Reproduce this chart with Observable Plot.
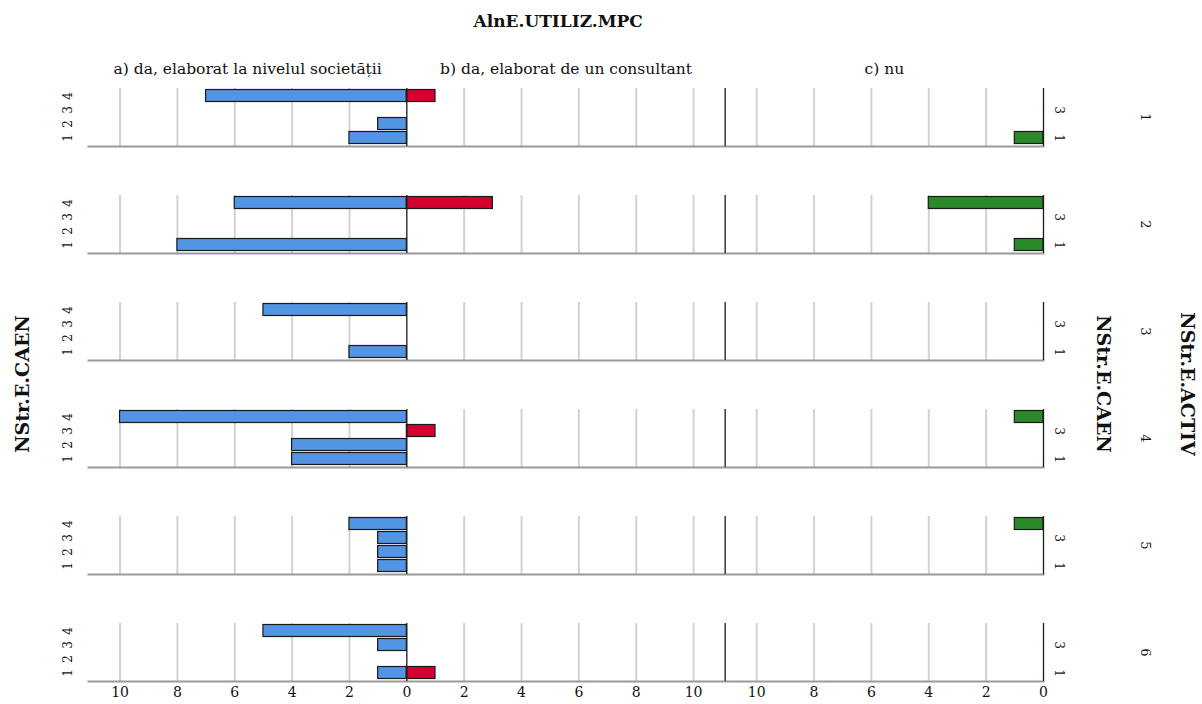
<!DOCTYPE html>
<html><head><meta charset="utf-8">
<script src="https://cdn.jsdelivr.net/npm/d3@7"></script>
<script src="https://cdn.jsdelivr.net/npm/@observablehq/plot@0.6"></script>
<style>
body{margin:0;background:#fff;}
#wrap{position:relative;width:1202px;height:704px;font-family:"DejaVu Serif",serif;color:#111;}
#wrap svg{position:absolute;left:0;top:0;}
.lbl{position:absolute;white-space:nowrap;transform-origin:center center;}
</style></head><body><div id="wrap"></div>
<script>
// Data
const activ = [1, 2, 3, 4, 5, 6];          // NStr.E.ACTIV (rows)
const caen = [1, 2, 3, 4];                 // NStr.E.CAEN (bars within a row)
const panels = ["a) da, elaborat la nivelul societății", "b) da, elaborat de un consultant", "c) nu"];
const panelColors = ["#5394e3", "#d4002f", "#2b892a"];
// counts[row][caen-1]
const countsA = [[2,1,0,7],[8,0,0,6],[2,0,0,5],[4,4,0,10],[1,1,1,2],[1,0,1,5]];
const countsB = [[0,0,0,1],[0,0,0,3],[0,0,0,0],[0,0,1,0],[0,0,0,0],[1,0,0,0]];
const countsC = [[1,0,0,0],[1,0,0,4],[0,0,0,0],[0,0,0,1],[0,0,0,1],[0,0,0,0]];
const tickValues = [10, 8, 6, 4, 2, 0];
const rightCaenLabels = [1, 3];

// Each panel spans W units; a reversed, b normal, c reversed
const W = 11.1;
const allCounts = [countsA, countsB, countsC];
const bars = [];
activ.forEach((a, i) => caen.forEach((c, j) => allCounts.forEach((cnt, p) => {
  const v = cnt[i][j];
  if (v > 0) bars.push({activ: a, caen: c, panel: p, v});
})));
const x1 = d => d.panel === 0 ? -d.v : d.panel === 1 ? 0 : 2 * W - d.v;
const x2 = d => d.panel === 0 ? 0 : d.panel === 1 ? d.v : 2 * W;

const xticks = [
  ...tickValues.map(t => -t),
  ...tickValues.slice().reverse().filter(t => t > 0),
  ...tickValues.map(t => 2 * W - t)
];
const fmt = v => String(Math.round(v <= 0 ? -v : v <= W + 1e-9 ? v : 2 * W - v));
const gridTicks = xticks.filter(t => Math.abs(t) > 1e-9 && Math.abs(t - 2 * W) > 1e-9);
const blackLines = [0, W, 2 * W];
const panelCenters = [-W / 2, W / 2, 1.5 * W];
const cells = activ.flatMap(a => caen.map(c => ({a, c})));

const chart = Plot.plot({
  width: 1202, height: 704,
  marginLeft: 88, marginRight: 159, marginTop: 87, marginBottom: 23,
  style: {fontFamily: "DejaVu Serif, serif", fontSize: "14px", color: "#111", background: "transparent"},
  x: {domain: [-W, 2 * W], ticks: xticks, tickFormat: fmt, tickSize: 0, tickPadding: 6, label: null},
  y: {type: "band", domain: [4, 3, 2, 1], paddingInner: 0.07, paddingOuter: 0.07, axis: null},
  fy: {domain: activ, paddingInner: 0.46, paddingOuter: 0, axis: null},
  marks: [
    Plot.ruleX(gridTicks, {stroke: "#d2d2d2", strokeWidth: 2}),
    Plot.frame({anchor: "bottom", stroke: "#999", strokeWidth: 2}),
    Plot.barX(bars, {x1, x2, y: "caen", fy: "activ", fill: d => panelColors[d.panel], stroke: "#1a1a1a", strokeWidth: 1.2, insetTop: 0.5, insetBottom: 0.5}),
    Plot.ruleX(blackLines, {stroke: "#1a1a1a", strokeWidth: 1.3}),
    Plot.text(cells, {fy: "a", y: "c", text: d => String(d.c), frameAnchor: "left", dx: -20, rotate: -90, textAnchor: "middle", lineAnchor: "middle", fontSize: 12}),
    Plot.text(cells.filter(d => rightCaenLabels.includes(d.c)), {fy: "a", y: "c", text: d => String(d.c), frameAnchor: "right", dx: 15, rotate: 90, textAnchor: "middle", lineAnchor: "middle", fontSize: 12}),
    Plot.text(activ, {fy: d => d, text: d => String(d), frameAnchor: "right", dx: 102, rotate: 90, textAnchor: "middle", lineAnchor: "middle", fontSize: 13}),
    Plot.text(panels, {x: (d, i) => panelCenters[i], fy: () => activ[0], text: d => d, frameAnchor: "top", dy: -19, textAnchor: "middle", lineAnchor: "middle", fontSize: 15.5})
  ]
});
const wrap = document.getElementById("wrap");
wrap.appendChild(chart);

function addLabel(text, cx, cy, rot, size, weight) {
  const el = document.createElement("div");
  el.className = "lbl";
  el.textContent = text;
  el.style.fontSize = size + "px";
  el.style.fontWeight = weight;
  wrap.appendChild(el);
  const w = el.offsetWidth, h = el.offsetHeight;
  el.style.left = (cx - w / 2) + "px";
  el.style.top = (cy - h / 2) + "px";
  el.style.transform = `rotate(${rot}deg)`;
}
addLabel("AlnE.UTILIZ.MPC", 558, 21, 0, 17, "bold");
addLabel("NStr.E.CAEN", 22, 384, -90, 19, "bold");
addLabel("NStr.E.CAEN", 1104, 384, 90, 19, "bold");
addLabel("NStr.E.ACTIV", 1187, 384, 90, 19, "bold");
</script></body></html>
